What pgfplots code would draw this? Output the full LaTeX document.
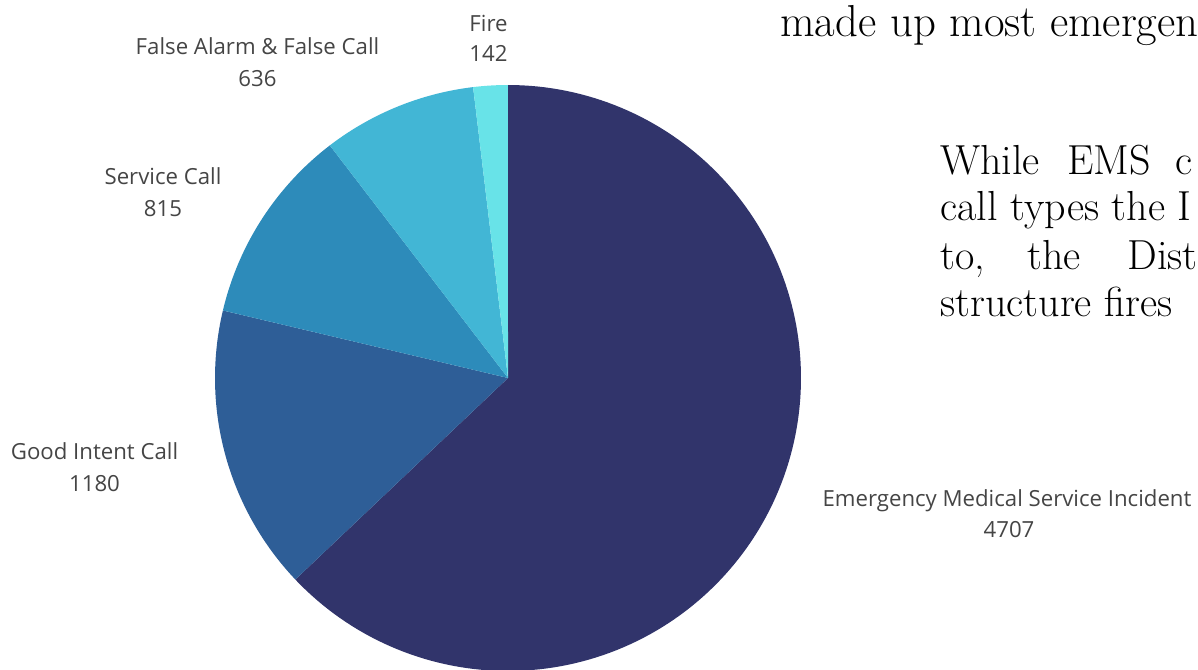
\documentclass[border=0pt]{standalone}
\usepackage{pgfplots}
\pgfplotsset{compat=1.18}
\usepackage{fontspec}
\newfontfamily\labelfont{Open Sans}
\definecolor{cEMS}{HTML}{31346B}
\definecolor{cGI}{HTML}{2E5E97}
\definecolor{cSC}{HTML}{2D8BBA}
\definecolor{cFA}{HTML}{42B6D5}
\definecolor{cFire}{HTML}{68E3E8}
\definecolor{ctext}{HTML}{454545}
% values
\def\vEMS{4707}
\def\vGI{1180}
\def\vSC{815}
\def\vFA{636}
\def\vFire{142}
\pgfmathsetmacro\tot{\vEMS+\vGI+\vSC+\vFA+\vFire}
\pgfmathsetmacro\eA{450-360*(\vEMS/\tot)}
\pgfmathsetmacro\eAm{\eA-360}
\pgfmathsetmacro\eB{\eA-360*(\vGI/\tot)}
\pgfmathsetmacro\eC{\eB-360*(\vSC/\tot)}
\pgfmathsetmacro\eD{\eC-360*(\vFA/\tot)}
\pgfmathsetmacro\eE{\eD-360*(\vFire/\tot)}
\begin{document}
\begin{tikzpicture}
\path[use as bounding box] (0,0) rectangle (599pt,334.5pt);
\clip (0,0) rectangle (599pt,334.5pt);
\begin{axis}[at={(0,0)}, anchor=south west, width=599pt, height=334.5pt,
  scale only axis, xmin=0, xmax=1198, ymin=0, ymax=669, hide axis, clip=false]
\addplot[fill=cEMS, draw=none, domain=\eAm:90, samples=160] ({508+293*cos(x)},{291+293*sin(x)}) -- (axis cs:508,291) -- cycle;
\addplot[fill=cGI, draw=none, domain=\eB:\eA, samples=60] ({508+293*cos(x)},{291+293*sin(x)}) -- (axis cs:508,291) -- cycle;
\addplot[fill=cSC, draw=none, domain=\eC:\eB, samples=50] ({508+293*cos(x)},{291+293*sin(x)}) -- (axis cs:508,291) -- cycle;
\addplot[fill=cFA, draw=none, domain=\eD:\eC, samples=40] ({508+293*cos(x)},{291+293*sin(x)}) -- (axis cs:508,291) -- cycle;
\addplot[fill=cFire, draw=none, domain=\eE:\eD, samples=12] ({508+293*cos(x)},{291+293*sin(x)}) -- (axis cs:508,291) -- cycle;
% labels
\begin{scope}[every node/.style={inner sep=0pt, anchor=base, text=ctext, font=\labelfont\fontsize{11.1pt}{13pt}\selectfont}]
\node at (axis cs:488.5,637) {Fire};
\node at (axis cs:488.5,607) {142};
\node at (axis cs:257.5,614) {False Alarm \& False Call};
\node at (axis cs:257.5,582) {636};
\node at (axis cs:163,484) {Service Call};
\node at (axis cs:163,452) {815};
\node at (axis cs:94.5,209) {Good Intent Call};
\node at (axis cs:94.5,177) {1180};
\node at (axis cs:1007,163) {Emergency Medical Service Incident};
\node at (axis cs:1009,132) {4707};
\end{scope}
\begin{scope}[every node/.style={inner sep=0pt, anchor=base west, text=black, font=\fontsize{21pt}{24pt}\selectfont}]
\node[font=\fontsize{22.4pt}{26pt}\selectfont] at (axis cs:780,632) {made up most emergen};
\node at (axis cs:940,494) {While};
\node at (axis cs:1067,494) {EMS};
\node at (axis cs:1175,494) {c};
\node at (axis cs:940,448) {call types the I};
\node at (axis cs:940,399) {to,};
\node at (axis cs:1027,399) {the};
\node at (axis cs:1127,399) {Dist};
\node at (axis cs:940,352) {structure fires};
\end{scope}
\end{axis}
\end{tikzpicture}
\end{document}
